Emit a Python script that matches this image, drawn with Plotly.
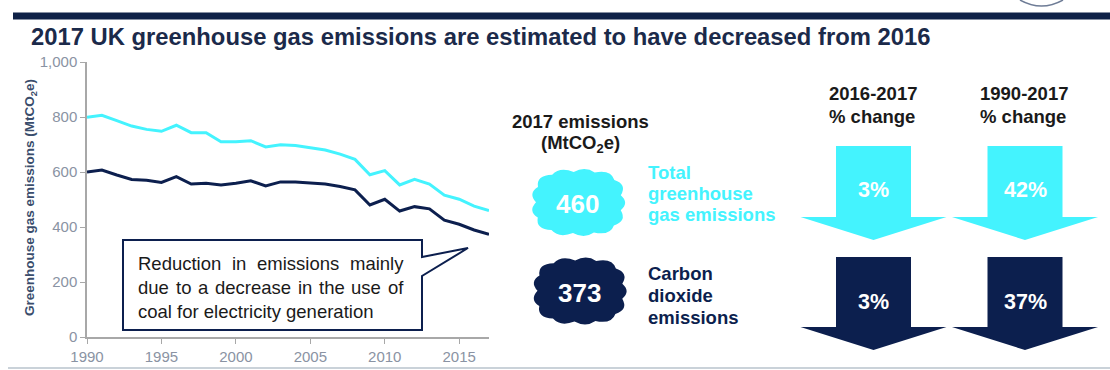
import math
import plotly.graph_objects as go

# ---- data -------------------------------------------------------------
years = list(range(1990, 2018))
total_ghg = [799, 806, 787, 767, 755, 748, 770, 743, 743, 710, 710, 714, 691, 699,
             696, 687, 680, 665, 646, 590, 605, 553, 573, 556, 516, 501, 476, 460]
carbon_dioxide = [600, 607, 589, 573, 570, 562, 583, 556, 559, 553, 559, 568, 549, 564,
                  564, 560, 556, 547, 535, 480, 501, 458, 474, 466, 425, 410, 389, 373]

series_names = ["Total greenhouse gas emissions", "Carbon dioxide emissions"]
emissions_2017 = [460, 373]
change_2016_2017 = [3, 3]
change_1990_2017 = [42, 37]
change_headers = ["2016-2017<br>% change", "1990-2017<br>% change"]

y_ticks = [0, 200, 400, 600, 800, 1000]
x_ticks = [1990, 1995, 2000, 2005, 2010, 2015]

# ---- styling ------------------------------------------------------------
W, H = 1110, 370
CYAN = "#44F3FE"
NAVY = "#0C1F4E"
TITLE_NAVY = "#1B2A4A"
DARK = "#1A1A1A"
AXIS_GREY = "#A8A8A8"
TICK_GREY = "#8A93A3"
FONT = "Liberation Sans, Arial, sans-serif"


def X(x):
    return x / W


def Y(y):
    return 1 - y / H


def path(points, close=True):
    s = "M " + " L ".join(f"{X(a):.5f},{Y(b):.5f}" for a, b in points)
    return s + (" Z" if close else "")


def note(text, x, y, size, color, xanchor="center", yanchor="middle", **kw):
    return dict(text=text, x=X(x), y=Y(y), xref="paper", yref="paper",
                xanchor=xanchor, yanchor=yanchor, showarrow=False,
                borderpad=0, borderwidth=0,
                font=dict(family=FONT, size=size, color=color), **kw)


fig = go.Figure()

fig.add_trace(go.Scatter(x=years, y=total_ghg, mode="lines", name=series_names[0],
                         line=dict(color=CYAN, width=3), hoverinfo="skip"))
fig.add_trace(go.Scatter(x=years, y=carbon_dioxide, mode="lines", name=series_names[1],
                         line=dict(color=NAVY, width=3), hoverinfo="skip"))

shapes = []
annotations = []

# header band and logo arc
shapes.append(dict(type="rect", xref="paper", yref="paper", x0=X(13), x1=X(1110),
                   y0=Y(19.5), y1=Y(12.5), fillcolor="#0F2147", line=dict(width=0)))
shapes.append(dict(type="path", xref="paper", yref="paper",
                   path=f"M {X(1020)},{Y(0)} Q {X(1041.5)},{Y(12)} {X(1063)},{Y(0)}",
                   line=dict(color="#6E7C96", width=1.5)))
# bottom rule
shapes.append(dict(type="line", xref="paper", yref="paper", x0=X(8), x1=X(1110),
                   y0=Y(368), y1=Y(368), line=dict(color="#B9C3CD", width=1.5)))

annotations.append(note(
    "<b>2017 UK greenhouse gas emissions are estimated to have decreased from 2016</b>",
    31, 37, 23.8, TITLE_NAVY, xanchor="left"))

# y-axis title
annotations.append(note("<b>Greenhouse gas emissions (MtCO<sub>2</sub>e)</b>",
                        30, 198, 13.5, "#3A4D6C", textangle=-90))

# ---- callout box ----------------------------------------------------------
shapes.append(dict(type="path", xref="paper", yref="paper",
                   path=path([(123, 240), (422, 240), (422, 257), (468, 248), (422, 276),
                              (422, 330), (123, 330)]),
                   fillcolor="white", line=dict(color=NAVY, width=2), layer="above"))

ARIAL = {
    " ": 278, "R": 722, "a": 556, "b": 556, "c": 500, "d": 556, "e": 556, "f": 278,
    "g": 556, "h": 556, "i": 222, "j": 222, "k": 500, "l": 222, "m": 833, "n": 556,
    "o": 556, "p": 556, "q": 556, "r": 333, "s": 500, "t": 278, "u": 556, "v": 500,
    "w": 722, "x": 500, "y": 500, "z": 500,
}


def text_width(word, size):
    return sum(ARIAL.get(ch, 556) for ch in word) * size / 1000.0


BOX_FS = 18.5
box_lines = [
    ("Reduction in emissions mainly", True, 263),
    ("due to a decrease in the use of", True, 287),
    ("coal for electricity generation", False, 311),
]
left_edge, right_edge = 138, 403
for line, justify, yc in box_lines:
    if justify:
        words = line.split(" ")
        widths = [text_width(w, BOX_FS) for w in words]
        gap = (right_edge - left_edge - sum(widths)) / (len(words) - 1)
        xpos = left_edge
        for w, wd in zip(words, widths):
            annotations.append(note(w, xpos, yc, BOX_FS, DARK, xanchor="left"))
            xpos += wd + gap
    else:
        annotations.append(note(line, left_edge, yc, BOX_FS, DARK, xanchor="left"))

# ---- 2017 emissions clouds ----------------------------------------------------
annotations.append(note("<b>2017 emissions</b>", 580, 121, 18.5, DARK))
annotations.append(note("<b>(MtCO<sub>2</sub>e)</b>", 580, 144, 18.5, DARK))


def cloud_path(cx, cy, a, b, n=13, k=1.2, p=3.0, phase=0.25):
    """Scalloped super-ellipse outline."""
    def pt(t, scale=1.0):
        c, s = math.cos(t), math.sin(t)
        r = (abs(c) ** p + abs(s) ** p) ** (-1.0 / p)
        return cx + scale * a * r * c, cy + scale * b * r * s

    s = "M {:.5f},{:.5f}".format(*(lambda q: (X(q[0]), Y(q[1])))(pt(phase)))
    for i in range(n):
        tm = phase + 2 * math.pi * (i + 0.5) / n
        te = phase + 2 * math.pi * (i + 1) / n
        qx, qy = pt(tm, k)
        ex, ey = pt(te)
        s += f" Q {X(qx):.5f},{Y(qy):.5f} {X(ex):.5f},{Y(ey):.5f}"
    return s + " Z"


cloud_specs = [(578.5, 202.5, CYAN), (580, 291, NAVY)]
label_specs = [
    (["Total", "greenhouse", "gas emissions"], [172, 193.5, 215], CYAN),
    (["Carbon", "dioxide", "emissions"], [273, 295, 317], NAVY),
]
for value, (cx, cy, col), (lines, ys, lcol) in zip(emissions_2017, cloud_specs, label_specs):
    shapes.append(dict(type="path", xref="paper", yref="paper",
                       path=cloud_path(cx, cy, 42.5, 30.5), fillcolor=col,
                       line=dict(width=0)))
    annotations.append(note(f"<b>{value}</b>", cx - 1, cy + 1.5, 26, "white"))
    for txt, yy in zip(lines, ys):
        annotations.append(note(f"<b>{txt}</b>", 648, yy, 18.5, lcol, xanchor="left"))

# ---- % change arrows ------------------------------------------------------------
col_centres = [873.5, 1025]
for hdr, xc in zip(change_headers, col_centres):
    top, bottom = hdr.split("<br>")
    annotations.append(note(f"<b>{top}</b>", xc - 1, 93.5, 18.5, DARK))
    annotations.append(note(f"<b>{bottom}</b>", xc - 2, 116.5, 18.5, DARK))


def down_arrow(xc, top, shoulder, tip, shaft_half=37.5, head_half=73):
    return path([(xc - shaft_half, top), (xc + shaft_half, top), (xc + shaft_half, shoulder),
                 (xc + head_half, shoulder), (xc, tip), (xc - head_half, shoulder),
                 (xc - shaft_half, shoulder)])


rows = [
    (CYAN, 146, 217, 240, 190),
    (NAVY, 257, 327, 350, 302),
]
for (col, top, shoulder, tip, ytxt), pcts in zip(rows, zip(change_2016_2017, change_1990_2017)):
    for xc, pct in zip(col_centres, pcts):
        shapes.append(dict(type="path", xref="paper", yref="paper",
                           path=down_arrow(xc, top, shoulder, tip), fillcolor=col,
                           line=dict(width=0)))
        annotations.append(note(f"<b>{pct}%</b>", xc, ytxt, 21.5, "white"))

fig.update_layout(
    width=W, height=H, autosize=False,
    margin=dict(l=0, r=0, t=0, b=0, pad=0, autoexpand=False),
    paper_bgcolor="white", plot_bgcolor="white",
    showlegend=False,
    font=dict(family=FONT),
    xaxis=dict(domain=[X(87), X(489)], range=[1990, 2017], tickvals=x_ticks,
               showline=True, linecolor=AXIS_GREY, linewidth=1.5,
               ticks="outside", ticklen=5, tickcolor=AXIS_GREY, tickwidth=1.2,
               showgrid=False, zeroline=False, fixedrange=True,
               tickfont=dict(family=FONT, size=15, color=TICK_GREY)),
    yaxis=dict(domain=[Y(337), Y(62)], range=[0, 1000], tickvals=y_ticks,
               tickformat=",", showline=True, linecolor=AXIS_GREY, linewidth=1.5,
               ticks="outside", ticklen=5, tickcolor=AXIS_GREY, tickwidth=1.2,
               showgrid=False, zeroline=False, fixedrange=True,
               tickfont=dict(family=FONT, size=15, color=TICK_GREY)),
    shapes=shapes,
    annotations=annotations,
)

fig.write_html("out.html")
